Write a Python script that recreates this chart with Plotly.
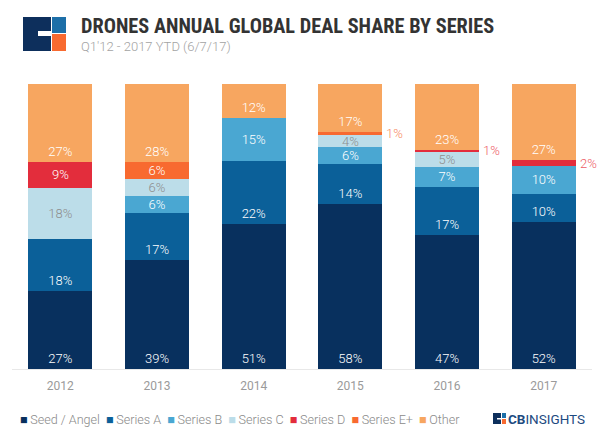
import plotly.graph_objects as go

years = ["2012", "2013", "2014", "2015", "2016", "2017"]
series_names = ["Seed / Angel", "Series A", "Series B", "Series C", "Series D", "Series E+", "Other"]
seed = [27, 39, 51, 58, 47, 52]
series_a = [18, 17, 22, 14, 17, 10]
series_b = [0, 6, 15, 6, 7, 10]
series_c = [18, 6, 0, 4, 5, 0]
series_d = [9, 0, 0, 0, 1, 2]
series_e = [0, 6, 0, 1, 0, 0]
other = [27, 28, 12, 17, 23, 27]

values = [seed, series_a, series_b, series_c, series_d, series_e, other]
colors = ["#08305e", "#0b6099", "#4aa7d2", "#bcdde9", "#e32d3c", "#f86a30", "#f7a660"]
text_colors = ["white", "white", "white", "#8d8d8d", "white", "white", "white"]
anchors = ["start", "start", "middle", "middle", "middle", "middle", "start"]
outside_colors = ["#ee5b66", "#ee5b66", "#ee5b66", "#ee5b66", "#ee5b66", "#f7885e", "#ee5b66"]

W, H = 600, 435
ML, MR, MT, MB = 12, 8, 84, 66
PW, PH = W - ML - MR, H - MT - MB


def px(x):
    return (x - ML) / PW


def py(y):
    return 1 - (y - MT) / PH


fig = go.Figure()
for name, vals, col, tcol, anc in zip(series_names, values, colors, text_colors, anchors):
    fig.add_trace(go.Bar(
        x=years, y=vals, name=name, marker=dict(color=col, line=dict(width=0)),
        text=[f"{v}%" if v >= 3 else "" for v in vals],
        textposition="inside", insidetextanchor=anc, textangle=0,
        textfont=dict(family="Roboto", size=13, color=tcol, weight=300),
        showlegend=False, hoverinfo="skip",
    ))

annotations = []
# small outside labels, positioned from normalized cumulative data
totals = [sum(v[i] for v in values) for i in range(len(years))]
for i, yr in enumerate(years):
    cum = 0
    for s, vals in enumerate(values):
        v = vals[i]
        if 0 < v < 3:
            mid = (cum + v / 2) / totals[i] * 100
            annotations.append(dict(
                x=i, y=mid, xref="x", yref="y", text=f"{v}%", showarrow=False,
                xanchor="left", yanchor="middle", xshift=34,
                font=dict(family="Roboto", size=13, color=outside_colors[s], weight=300)))
        cum += v

# title & subtitle
annotations.append(dict(
    x=px(79), y=py(26), xref="paper", yref="paper", xanchor="left", yanchor="middle",
    text="<b>DRONES ANNUAL GLOBAL DEAL SHARE BY SERIES</b>", showarrow=False,
    font=dict(family="Liberation Sans Narrow, Roboto Condensed, Roboto", size=20.3, color="#333333")))
annotations.append(dict(
    x=px(79), y=py(46), xref="paper", yref="paper", xanchor="left", yanchor="middle",
    text="Q1'12 - 2017 YTD (6/7/17)", showarrow=False,
    font=dict(family="Roboto", size=13, color="#a3a3a3", weight=300)))

# legend as text
legend_parts = []
for name, col in zip(series_names, colors):
    legend_parts.append(f"<span style='color:{col}'>■</span>\u2009{name}")
annotations.append(dict(
    x=px(18), y=py(419), xref="paper", yref="paper", xanchor="left", yanchor="middle",
    text="  ".join(legend_parts), showarrow=False,
    font=dict(family="Roboto", size=12.6, color="#8a8a8a", weight=300)))

# CB Insights wordmark
annotations.append(dict(
    x=px(506), y=py(419), xref="paper", yref="paper", xanchor="left", yanchor="middle",
    text="<b>CB</b>INSIGHTS", showarrow=False,
    font=dict(family="Roboto", size=13.5, color="#1d4a80")))


def rect(x0, y0, x1, y1, col):
    return dict(type="rect", xref="paper", yref="paper", x0=px(x0), x1=px(x1),
                y0=py(y1), y1=py(y0), fillcolor=col, line=dict(width=0), layer="above")


shapes = [
    rect(23, 17, 51, 51, "#0d2f5c"),
    rect(38, 31, 51, 36, "white"),
    rect(52, 17, 66, 33, "#1d6fa8"),
    rect(52, 34, 66, 51, "#f86a30"),
    # small icon
    rect(493, 413, 501, 424, "#0d2f5c"),
    rect(497, 418, 501, 419.5, "white"),
    rect(502, 413, 506, 418, "#1d6fa8"),
    rect(502, 419, 506, 424, "#f86a30"),
]

fig.update_layout(
    width=W, height=H, barmode="stack", barnorm="percent", bargap=0.34,
    margin=dict(l=ML, r=MR, t=MT, b=MB),
    plot_bgcolor="white", paper_bgcolor="white",
    uniformtext=dict(minsize=13, mode="show"),
    annotations=annotations, shapes=shapes,
    xaxis=dict(type="category", range=[-0.5, len(years) - 0.5],
               showline=True, linecolor="#e8e8e8", linewidth=1, ticks="",
               tickfont=dict(family="Roboto", size=12, color="#9a9a9a"),
               ticklabelstandoff=6, showgrid=False, zeroline=False, fixedrange=True),
    yaxis=dict(visible=False, range=[0, 100], fixedrange=True),
)

fig.write_html("out.html", config={"displayModeBar": False},
               post_script="document.body.style.margin='0';")
